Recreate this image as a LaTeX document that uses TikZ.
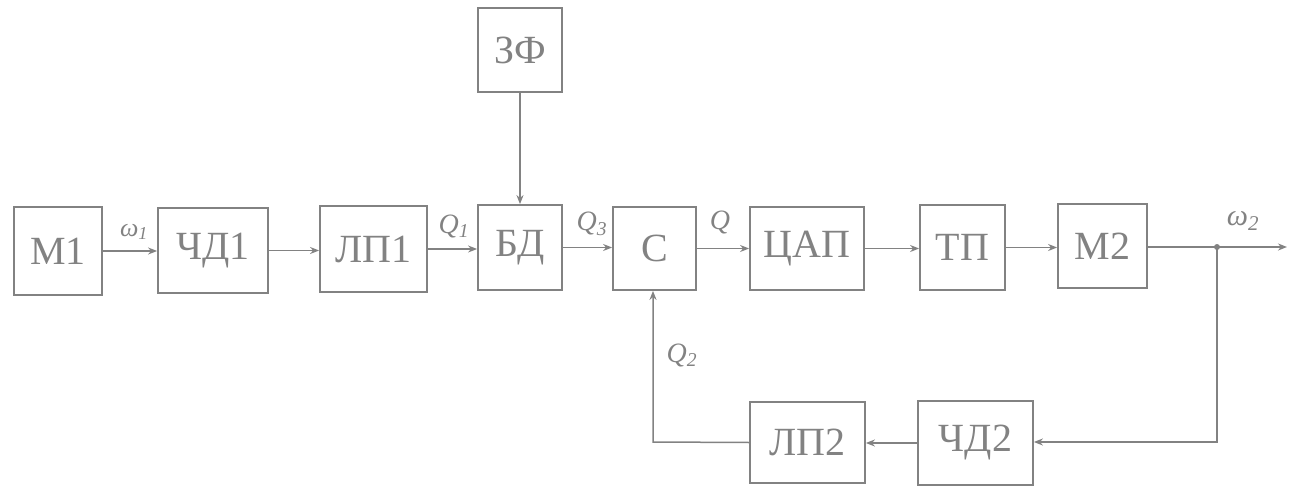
\documentclass[tikz,border=0pt]{standalone}
\usepackage{fontspec}
\setmainfont{Liberation Serif}
\usetikzlibrary{arrows.meta}
\definecolor{ink}{RGB}{130,130,130}
\tikzset{
  blk/.style={draw=ink, line width=1.8pt, text=ink, inner sep=0pt,
    font=\fontsize{40}{40}\selectfont},
  conn/.style={draw=ink, line width=1.5pt},
  arr/.style={conn, -{Stealth[length=9pt,width=7pt]}},
  lbl/.style={text=ink, inner sep=0pt, font=\fontsize{28}{28}\selectfont\itshape}
}
\begin{document}
\begin{tikzpicture}[x=1pt,y=-1pt]
\useasboundingbox (0,0) rectangle (1291,487);
\node[blk, minimum width=88pt, minimum height=88pt] (m1) at (58,251) {М1};
\node[blk, minimum width=110pt, minimum height=85pt] (chd1) at (213,250.5) {ЧД1};
\node[blk, minimum width=107pt, minimum height=86pt] (lp1) at (373.5,249) {ЛП1};
\node[blk, minimum width=84pt, minimum height=85pt] (bd) at (520,247.5) {БД};
\node[blk, minimum width=84pt, minimum height=84pt] (zf) at (520,50) {ЗФ};
\node[blk, minimum width=83pt, minimum height=83pt] (s) at (654.5,248.5) {С};
\node[blk, minimum width=114pt, minimum height=83pt] (cap) at (807,248.5) {ЦАП};
\node[blk, minimum width=85pt, minimum height=85pt] (tp) at (962.5,247.5) {ТП};
\node[blk, minimum width=89pt, minimum height=84pt] (m2) at (1102.5,246) {М2};
\node[blk, minimum width=115pt, minimum height=81pt] (lp2) at (807.5,442.5) {ЛП2};
\node[blk, minimum width=115pt, minimum height=84pt] (chd2) at (975.5,443) {ЧД2};
\coordinate (j) at (1217,247);
\coordinate (out) at (1287,247);
\coordinate (c1) at (1217,442);
\coordinate (c2) at (653,442);
\draw[arr] (m1.east) -- (m1.east -| chd1.west);
\draw[arr] (chd1.east) -- (chd1.east -| lp1.west);
\draw[arr] (lp1.east) -- (lp1.east -| bd.west);
\draw[arr] (zf.south) -- (bd.north);
\draw[arr] (bd.east) -- (bd.east -| s.west);
\draw[arr] (s.east) -- (s.east -| cap.west);
\draw[arr] (cap.east) -- (cap.east -| tp.west);
\draw[arr] (tp.east) -- (tp.east -| m2.west);
\draw[conn] (m2.east |- j) -- (j);
\draw[arr] (j) -- (out);
\fill[ink] (j) circle (3pt);
\draw[arr] (j) -- (c1) -- (c1 -| chd2.east);
\draw[arr] (chd2.west) -- (chd2.west -| lp2.east);
\draw[arr] (lp2.west) -- (c2) -- (c2 |- s.south);
\node[lbl, font=\fontsize{26}{26}\selectfont\itshape] (w1) at (134,232) {ω\textsubscript{1}};
\node[lbl] (q1) at (454,226) {Q\textsubscript{1}};
\node[lbl] (q3) at (592,224) {Q\textsubscript{3}};
\node[lbl] (q) at (720,222) {Q};
\node[lbl] (q2) at (682,355) {Q\textsubscript{2}};
\node[lbl, font=\fontsize{30}{30}\selectfont\itshape] (w2) at (1243,221) {ω\textsubscript{2}};
\end{tikzpicture}
\end{document}
